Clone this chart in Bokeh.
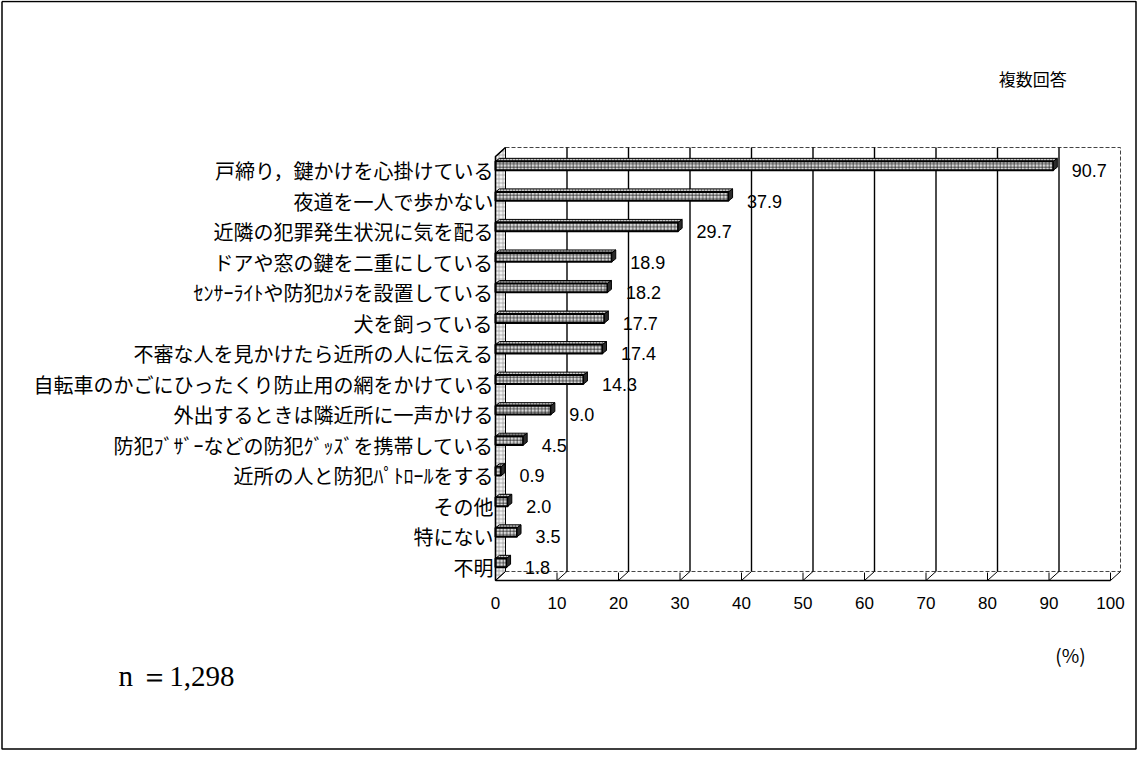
from bokeh.plotting import figure
from bokeh.models import Range1d, FixedTicker
from bokeh.core.properties import value
from bokeh.embed import file_html
from bokeh.resources import INLINE

# ---- data ----
categories = [
    "戸締り，鍵かけを心掛けている",
    "夜道を一人で歩かない",
    "近隣の犯罪発生状況に気を配る",
    "ドアや窓の鍵を二重にしている",
    "ｾﾝｻｰﾗｲﾄや防犯ｶﾒﾗを設置している",
    "犬を飼っている",
    "不審な人を見かけたら近所の人に伝える",
    "自転車のかごにひったくり防止用の網をかけている",
    "外出するときは隣近所に一声かける",
    "防犯ﾌﾞｻﾞｰなどの防犯ｸﾞｯｽﾞを携帯している",
    "近所の人と防犯ﾊﾟﾄﾛｰﾙをする",
    "その他",
    "特にない",
    "不明",
]
percent = [90.7, 37.9, 29.7, 18.9, 18.2, 17.7, 17.4, 14.3, 9.0, 4.5, 0.9, 2.0, 3.5, 1.8]
x_ticks = [0, 10, 20, 30, 40, 50, 60, 70, 80, 90, 100]
note_text = "複数回答"
n_text = "n ＝1,298"
unit_text = "(%)"

# ---- layout constants (pixels -> data units) ----
W, H = 1137, 750
PX_X = 6.15           # px per percent
PX_Y = 30.54          # px per category row
X0 = -495 / PX_X      # canvas left edge
X1 = X0 + W / PX_X
Y_TOP = -170 / PX_Y   # canvas top edge (range reversed)
Y_BOT = Y_TOP + H / PX_Y
DX = 10 / PX_X        # wall depth
DY = 9 / PX_Y
YB_TOP = -0.753
YF_TOP = YB_TOP + DY
YF_BOT = 13.425
YB_BOT = YF_BOT - DY
XMAX = x_ticks[-1]

p = figure(width=W, height=H, x_range=Range1d(X0, X1), y_range=Range1d(Y_BOT, Y_TOP),
           output_backend="svg", toolbar_location=None, min_border=0)
p.outline_line_color = None
p.xgrid.visible = False
p.ygrid.visible = False
p.background_fill_color = "white"
p.border_fill_color = "white"

# ---- outer border of the sheet ----
bx0, bx1 = X0 + 1.5 / PX_X, X1 - 1.5 / PX_X
by0, by1 = Y_TOP + 1.0 / PX_Y, Y_BOT - 1.5 / PX_Y
p.line([bx0, bx1, bx1, bx0, bx0], [by0, by0, by1, by1, by0], line_color="black", line_width=1.5)

# ---- 3D walls ----
p.patch([0, DX, DX, 0], [YF_TOP, YB_TOP, YB_BOT, YF_BOT], fill_color="#f2f2f2",
        hatch_pattern="+", hatch_color="#8a8a8a", hatch_scale=4, hatch_weight=0.6,
        line_color="black", line_width=1)
p.line([DX, XMAX + DX, XMAX + DX, DX], [YB_TOP, YB_TOP, YB_BOT, YB_BOT],
       line_color="#444", line_width=1, line_dash="4 2")
gx = [t + DX for t in x_ticks[1:-1]]
p.segment(x0=gx, y0=[YB_TOP] * len(gx), x1=gx, y1=[YB_BOT] * len(gx),
          line_color="black", line_width=1.4)
p.segment(x0=x_ticks, y0=[YF_BOT] * len(x_ticks),
          x1=[t + DX for t in x_ticks], y1=[YB_BOT] * len(x_ticks),
          line_color="black", line_width=1)
p.segment(x0=x_ticks, y0=[YF_BOT] * len(x_ticks), x1=x_ticks,
          y1=[YF_BOT - 0.26] * len(x_ticks), line_color="black", line_width=1)
p.line([0, XMAX], [YF_BOT, YF_BOT], line_color="black", line_width=1.4)
p.line([DX, 0, 0], [YB_TOP, YF_TOP, YF_BOT], line_color="black", line_width=1.6)

# ---- bars ----
ys = list(range(len(categories)))
BDX = 4 / PX_X
BDY = 3 / PX_Y
f_top = [y - 0.30 for y in ys]
f_bot = [y - 0.01 for y in ys]
top_xs = [[0, v, v + BDX, BDX] for v in percent]
top_ys = [[t, t, t - BDY, t - BDY] for t in f_top]
p.patches(top_xs, top_ys, fill_color="#c8c8c8", hatch_pattern="+", hatch_color="#333",
          hatch_scale=3, hatch_weight=0.5, line_color="black", line_width=1)
p.hbar(y=[(a + b) / 2 for a, b in zip(f_top, f_bot)], height=[b - a for a, b in zip(f_top, f_bot)],
       left=0, right=percent, fill_color="#dadada", hatch_pattern="+", hatch_color="#1a1a1a",
       hatch_scale=3.5, hatch_weight=0.7, line_color="black", line_width=2)
side_xs = [[v, v + BDX, v + BDX, v] for v in percent]
side_ys = [[t, t - BDY, b - BDY, b] for t, b in zip(f_top, f_bot)]
p.patches(side_xs, side_ys, fill_color="#2b2b2b", line_color="black", line_width=1)

# ---- value labels ----
p.text(x=[v + 3.0 for v in percent], y=ys, text=[f"{v:.1f}" for v in percent],
       text_font=value("Liberation Sans"), text_font_size="18px", text_color="black",
       text_align="left", text_baseline="middle")

# ---- axes (fixed at the chart's front edges) ----
p.xaxis.fixed_location = YF_BOT
p.xaxis.ticker = FixedTicker(ticks=x_ticks)
p.xaxis.axis_line_color = None
p.xaxis.major_tick_line_color = None
p.xaxis.major_tick_out = 0
p.xaxis.major_tick_in = 0
p.xaxis.minor_tick_line_color = None
p.xaxis.major_label_standoff = 17
p.xaxis.major_label_text_font = "Liberation Sans"
p.xaxis.major_label_text_font_size = "17px"
p.xaxis.major_label_text_color = "black"

p.yaxis.fixed_location = 0
p.yaxis.ticker = FixedTicker(ticks=ys)
p.yaxis.major_label_overrides = {i: c for i, c in enumerate(categories)}
p.yaxis.axis_line_color = None
p.yaxis.major_tick_line_color = None
p.yaxis.major_tick_out = 0
p.yaxis.major_tick_in = 0
p.yaxis.minor_tick_line_color = None
p.yaxis.major_label_standoff = 2
p.yaxis.major_label_text_font = "Noto Sans CJK JP"
p.yaxis.major_label_text_font_size = "20px"
p.yaxis.major_label_text_color = "black"

# ---- notes ----
p.text(x=[92.9], y=[-3.01], text=[note_text], text_font=value("Noto Sans CJK JP"),
       text_font_size="17px", text_align="right", text_baseline="middle", text_color="black")
p.text(x=[-61.3], y=[16.54], text=[n_text], text_font=value("Liberation Serif"),
       text_font_size="29px", text_align="left", text_baseline="middle", text_color="black")
p.text(x=[93.5], y=[15.85], text=[unit_text], text_font=value("Noto Sans CJK JP"),
       text_font_size="19px", text_align="center", text_baseline="middle", text_color="black")

open("out.html", "w").write(file_html(p, INLINE))
